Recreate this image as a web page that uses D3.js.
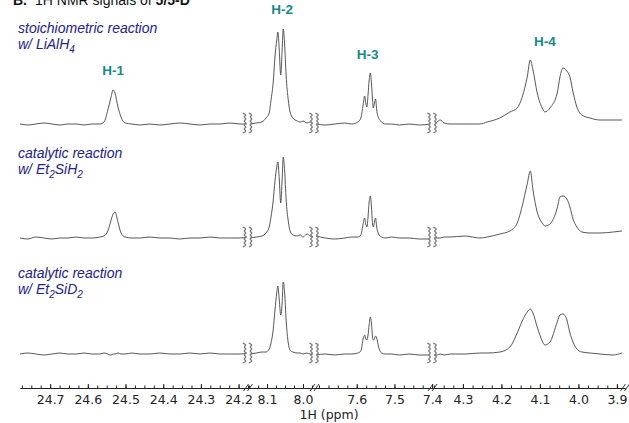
<!DOCTYPE html>
<html>
<head>
<meta charset="utf-8">
<script src="https://cdn.jsdelivr.net/npm/d3@7"></script>
<style>
body { margin: 0; background: #fff; }
svg { display: block; }
.axis text { font-family: "DejaVu Sans", Verdana, sans-serif; font-size: 12.5px; fill: #222; }
.axis path, .axis line { stroke: #222; }
</style>
</head>
<body>
<div id="chart"></div>
<script>

// chemical shift grids (ppm) for each of the four axis pieces
var ppmA = [24.780, 24.759, 24.738, 24.716, 24.695, 24.674, 24.653, 24.631, 24.610, 24.589, 24.568, 24.557, 24.547, 24.539, 24.533, 24.528, 24.520, 24.512, 24.501, 24.483, 24.462, 24.435, 24.409, 24.382, 24.356, 24.329, 24.302, 24.276, 24.249, 24.223, 24.196, 24.178];
var ppmB = [8.147, 8.130, 8.114, 8.103, 8.094, 8.089, 8.083, 8.078, 8.073, 8.070, 8.066, 8.062, 8.058, 8.055, 8.051, 8.047, 8.041, 8.036, 8.028, 8.016, 8.008, 8.000, 7.989, 7.980, 7.972];
var ppmC = [7.708, 7.684, 7.658, 7.632, 7.613, 7.597, 7.589, 7.583, 7.579, 7.576, 7.573, 7.570, 7.567, 7.564, 7.561, 7.558, 7.556, 7.553, 7.550, 7.547, 7.542, 7.534, 7.524, 7.508, 7.487, 7.461, 7.434, 7.405];
var ppmD = [4.375, 4.367, 4.359, 4.349, 4.333, 4.294, 4.256, 4.237, 4.204, 4.178, 4.159, 4.146, 4.133, 4.125, 4.118, 4.107, 4.094, 4.087, 4.074, 4.055, 4.048, 4.040, 4.030, 4.022, 4.014, 4.004, 3.991, 3.970, 3.944, 3.910, 3.887];

// intensities (a.u.) - stoichiometric LiAlH4
var stoichA = [1,0,1,2,1,0,1,1,0,1,1,3,15,27,35,32,18,8,2,1,0,1,0,1,2,1,0,1,1,2,1,1];
var stoichB = [1,2,3,7,12,25,42,68,85,93,75,50,75,96,80,50,25,13,7,4,3,4,2,3,1];
var stoichC = [1,0,1,2,1,3,7,20,29,22,18,30,45,52,42,25,17,22,26,15,7,3,1,1,0,1,0,1];
var stoichD = [0,3,5,2,1,1,1,3,7,13,17,28,48,65,55,32,17,13,17,32,48,57,54,48,33,18,10,7,5,5,5];

// catalytic Et2SiH2
var silHA = [1,0,2,1,0,1,1,2,1,1,2,3,8,18,25,27,17,6,2,1,1,2,1,1,0,1,1,2,1,1,1,2];
var silHB = [1,2,3,6,12,22,38,58,72,77,60,36,60,82,68,40,18,8,4,3,4,2,5,3,2];
var silHC = [3,1,0,1,2,2,4,15,21,15,12,22,37,43,33,15,12,17,21,12,5,2,1,2,1,1,0,0];
var silHD = [1,1,1,2,2,3,1,2,5,8,16,33,55,68,49,27,16,13,15,31,42,43,40,32,20,12,7,6,6,7,8];

// catalytic Et2SiD2
var silDA = [1,2,1,0,1,2,1,1,2,1,1,2,1,0,1,1,2,1,1,2,1,1,2,1,1,2,1,2,1,1,1,2];
var silDB = [1,2,3,3,6,12,25,45,62,69,55,40,52,73,62,35,12,5,3,2,2,1,2,1,1];
var silDC = [0,1,0,1,1,2,4,16,20,16,15,20,30,38,32,18,15,16,19,17,8,2,1,1,0,1,0,0];
var silDD = [0,0,1,0,1,1,2,2,3,8,22,34,43,46,42,28,14,10,13,33,40,41,35,22,13,6,3,2,1,0,2];

var tickA = [24.7, 24.6, 24.5, 24.4, 24.3, 24.2];
var tickB = [8.1, 8.0];
var tickC = [7.6, 7.5, 7.4];
var tickD = [4.3, 4.2, 4.1, 4.0, 3.9];

var peakNames = ["H-1", "H-2", "H-3", "H-4"];
var peakPpm = [24.533, 8.058, 7.571, 4.087];
var peakSeg = [0, 1, 2, 3];

var traceLine1 = ["stoichiometric reaction", "catalytic reaction", "catalytic reaction"];
var traceLine2 = [
  [["w/ LiAlH", false], ["4", true]],
  [["w/ Et", false], ["2", true], ["SiH", false], ["2", true]],
  [["w/ Et", false], ["2", true], ["SiD", false], ["2", true]]
];

var ppmSegs = [ppmA, ppmB, ppmC, ppmD];
var traces = [
  [stoichA, stoichB, stoichC, stoichD],
  [silHA, silHB, silHC, silHD],
  [silDA, silDB, silDC, silDD]
];
var tickSegs = [tickA, tickB, tickC, tickD];

// layout
var width = 629, height = 423;
var axisY = 388;
var baselines = [125, 239, 355];
var labelY = [33, 158, 278];
var peakLabelY = [75, 14, 59, 46];
var segDomains = [[24.78, 24.175], [8.153, 7.968], [7.712, 7.399], [4.379, 3.879]];
var segRanges = [[20, 248], [248, 314.5], [314.5, 432.5], [432.5, 625]];

var svg = d3.select("#chart").append("svg")
  .attr("width", width)
  .attr("height", height);

var xScales = segDomains.map((dom, i) => d3.scaleLinear().domain(dom).range(segRanges[i]));

var yScale = d3.scaleLinear()
  .domain([0, 100])
  .range([0, -100]);

// title (cut off at the top in the original)
var title = svg.append("text")
  .attr("x", 13)
  .attr("y", 5)
  .style("font-family", "'Liberation Sans', Arial, sans-serif")
  .style("font-size", "14px")
  .attr("fill", "#111");
title.append("tspan").attr("font-weight", "bold").text("B.");
title.append("tspan").attr("dx", 8).text("1H NMR signals of ");
title.append("tspan").attr("font-weight", "bold").text("5/5-D");

// spectra
var line = d3.line()
  .x(d => d.x)
  .y(d => yScale(d.v))
  .curve(d3.curveMonotoneX);

traces.forEach(function(tr, t) {
  var g = svg.append("g")
    .attr("transform", `translate(0,${baselines[t]})`);

  tr.forEach(function(vals, s) {
    var pts = vals.map((v, i) => ({x: xScales[s](ppmSegs[s][i]), v: v}));
    g.append("path")
      .datum(pts)
      .attr("fill", "none")
      .attr("stroke", "#444")
      .attr("stroke-width", 0.9)
      .attr("d", line);
  });

  // wavy break symbols between the pieces
  var wave = d3.line().curve(d3.curveBasis);
  [0, 1, 2].forEach(function(s) {
    var bx = segRanges[s][1];
    [-3, 3].forEach(function(off) {
      var p = d3.range(0, 11).map(k => [bx + off + (k % 2 ? 2.2 : -2.2), -12 + k * 2]);
      g.append("path")
        .attr("d", wave(p))
        .attr("fill", "none")
        .attr("stroke", "#7a7a7a")
        .attr("stroke-width", 1.3);
    });
  });

  // sample label
  var lab = svg.append("g")
    .style("font-family", "'Liberation Sans', Arial, sans-serif")
    .style("font-style", "italic")
    .style("font-size", "14px")
    .attr("fill", "#22228c");
  lab.append("text")
    .attr("x", 18)
    .attr("y", labelY[t])
    .text(traceLine1[t]);
  var t2 = lab.append("text")
    .attr("x", 18)
    .attr("y", labelY[t] + 16);
  var shifted = false;
  traceLine2[t].forEach(function(part) {
    var ts = t2.append("tspan").text(part[0]);
    if (part[1]) {
      ts.attr("dy", 4).style("font-size", "10px");
      shifted = true;
    } else if (shifted) {
      ts.attr("dy", -4);
      shifted = false;
    }
  });
});

// peak labels
svg.append("g")
  .selectAll("text")
  .data(peakNames)
  .join("text")
    .attr("x", (d, i) => xScales[peakSeg[i]](peakPpm[i]))
    .attr("y", (d, i) => peakLabelY[i])
    .attr("text-anchor", "middle")
    .style("font-family", "'Liberation Sans', Arial, sans-serif")
    .style("font-weight", "bold")
    .style("font-size", "13.5px")
    .attr("fill", "#168a8a")
    .text(d => d);

// broken x axis
var fmt = d3.format(".1f");
xScales.forEach(function(x, s) {
  var dom = x.domain();
  var lo = Math.min(dom[0], dom[1]), hi = Math.max(dom[0], dom[1]);
  var minor = d3.range(Math.ceil(lo / 0.025) * 0.025, hi, 0.025);

  svg.append("g")
    .attr("class", "axis")
    .attr("transform", `translate(0,${axisY})`)
    .call(d3.axisBottom(x).tickValues(minor).tickFormat("").tickSize(-2.5).tickSizeOuter(0));

  svg.append("g")
    .attr("class", "axis")
    .attr("transform", `translate(0,${axisY})`)
    .call(d3.axisBottom(x).tickValues(tickSegs[s]).tickFormat(fmt).tickSize(-4).tickSizeOuter(0).tickPadding(7));
});

// axis break marks
segRanges.map(r => r[1]).forEach(function(bx) {
  [-2, 2].forEach(function(off) {
    svg.append("line")
      .attr("x1", bx + off - 2.5)
      .attr("y1", axisY + 3)
      .attr("x2", bx + off + 2.5)
      .attr("y2", axisY - 4)
      .attr("stroke", "#222")
      .attr("stroke-width", 0.9);
  });
});

svg.append("text")
  .attr("x", 329)
  .attr("y", 419)
  .attr("text-anchor", "middle")
  .style("font-family", "'DejaVu Sans', Verdana, sans-serif")
  .style("font-size", "12.5px")
  .attr("fill", "#222")
  .text("1H (ppm)");

</script>
</body>
</html>
